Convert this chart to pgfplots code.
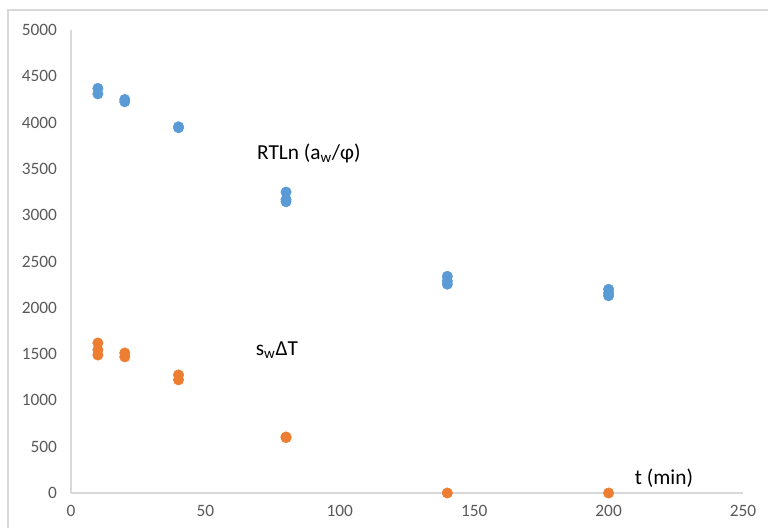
\documentclass[border=0pt]{standalone}
\usepackage{pgfplots}
\pgfplotsset{compat=1.18}
\usepackage{fontspec}
\setmainfont{Carlito}
\definecolor{bluep}{HTML}{5B9BD5}
\definecolor{orangep}{HTML}{ED7D31}
\definecolor{ticktext}{HTML}{595959}
\definecolor{axline}{HTML}{D9D9D9}
\definecolor{frameline}{HTML}{D9D9D9}
\begin{document}
\begin{tikzpicture}
\useasboundingbox (0pt,0pt) rectangle (576pt,396pt);
\draw[frameline,line width=0.9pt] (6pt,0pt) -- (6pt,388.5pt) -- (576pt,388.5pt);
\begin{axis}[
  at={(53.25pt,26.25pt)}, anchor=south west,
  scale only axis, width=504pt, height=347.25pt,
  xmin=0, xmax=250, ymin=0, ymax=5000,
  xtick={0,50,...,250}, ytick={0,500,...,5000},
  axis lines=left, axis line style={draw=axline, line width=0.9pt, -},
  major tick length=0pt,
  tick label style={font=\fontsize{13}{15}\selectfont, text=ticktext},
  /pgf/number format/assume math mode=true,
  /pgf/number format/1000 sep={},
  yticklabel style={xshift=-7pt},
  xticklabel style={yshift=-6pt},
  clip=false,
]
\addplot[only marks, mark=*, mark size=3.9pt, color=bluep, mark options={draw=bluep, fill=bluep}] coordinates {
(10,4370) (10,4310) (20,4250) (20,4225) (40,3955) (40,3945)
(80,3250) (80,3170) (80,3145) (140,2340) (140,2290) (140,2255)
(200,2200) (200,2160) (200,2130)
};
\addplot[only marks, mark=*, mark size=3.9pt, color=orangep, mark options={draw=orangep, fill=orangep}] coordinates {
(10,1620) (10,1545) (10,1490) (20,1512) (20,1470) (40,1275) (40,1222)
(80,605) (80,598) (140,0) (200,0)
};
\node[font=\fontsize{16}{19}\selectfont] at (axis cs:88.5,3672) {RTLn (a\textsubscript{w}/φ)};
\node[font=\fontsize{16}{19}\selectfont] at (axis cs:76.6,1544) {s\textsubscript{w}ΔT};
\node[font=\fontsize{16}{19}\selectfont] at (axis cs:220.6,162) {t (min)};
\end{axis}
\end{tikzpicture}
\end{document}
